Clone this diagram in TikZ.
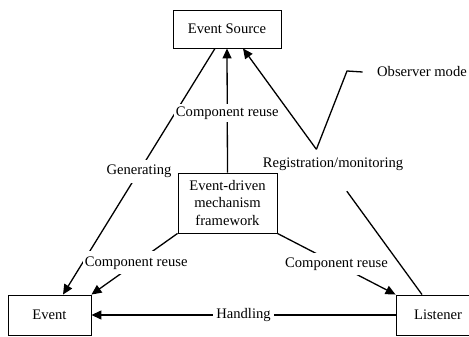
\documentclass[tikz,border=0pt]{standalone}
\usepackage{fontspec}
\setmainfont{Liberation Serif}
\usetikzlibrary{arrows.meta,calc}

\begin{document}
\begin{tikzpicture}[x=1pt, y=-1pt,
    box/.style={draw, line width=0.9pt, inner sep=0pt, align=center},
    arr/.style={line width=1.3pt, -{Triangle[length=10pt,width=9pt]}},
    lbl/.style={fill=white, inner xsep=2pt, inner ysep=5pt},
    font=\fontsize{14.6}{17.5}\selectfont]
    \useasboundingbox (0,0) rectangle (469,337);
    \clip (0,0) rectangle (469,337);

    % Boxes
    \node[box, minimum width=108pt, minimum height=38pt] (src) at (227,29) {Event Source};
    \node[box, minimum width=83pt, minimum height=40pt] (event) at (49.5,315) {Event};
    \node[box, minimum width=84pt, minimum height=40pt] (lis) at (438,315) {Listener};
    \node[box, minimum width=99pt, minimum height=60pt] (fw) at (227.5,203) {Event-driven\\mechanism\\framework};

    % Source to event
    \draw[arr] ([xshift=-12pt]src.south) -- node[lbl] {Generating} ([xshift=13.5pt]event.north);

    % Framework to the three parts
    \draw[arr] (fw.north) -- node[lbl, inner ysep=3pt, pos=0.48] {Component reuse} (src.south);
    \draw[arr] (fw.south west) -- node[lbl, pos=0.48] {Component reuse} (event.north east);
    \draw[arr] (fw.south east) -- node[lbl, pos=0.5] {Component reuse} (lis.north west);

    % Listener to event
    \draw[arr] (lis.west) -- node[lbl, inner ysep=2pt, inner xsep=3pt] {Handling} (event.east);

    % Registration, broken round its label
    \coordinate (regl) at ($([xshift=-16pt]lis.north)!0.42!([xshift=16pt]src.south)$);
    \coordinate (regu) at ($([xshift=-16pt]lis.north)!0.59!([xshift=16pt]src.south)$);
    \draw[arr] ([xshift=-16pt]lis.north) -- (regl) (regu) -- ([xshift=16pt]src.south);
    \node (reg) at (333,164) {Registration/monitoring};

    % Observer mode callout
    \node (obs) at (422,72) {Observer mode};
    \coordinate (obsbend) at (347,71);
    \draw[line width=1.3pt] (regu) -- (obsbend) -- ([xshift=-11pt]obs.west);
\end{tikzpicture}
\end{document}
